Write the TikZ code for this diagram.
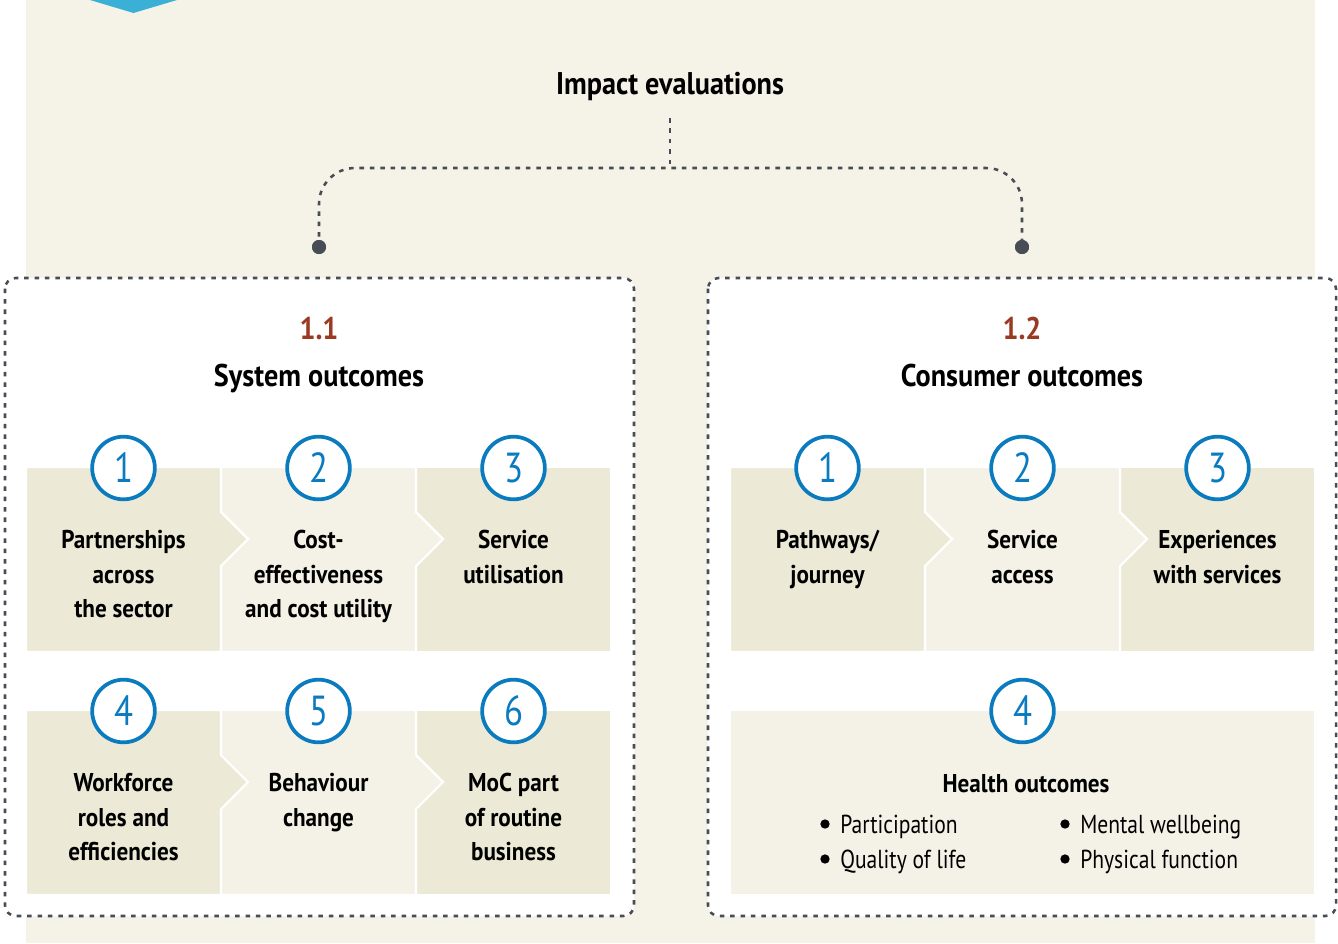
\documentclass[tikz,border=0pt]{standalone}
\usepackage{fontspec}
\setmainfont{PT Sans}[FakeStretch=0.9]
\newfontfamily\narrowfont{PT Sans}[FakeStretch=0.83]
\definecolor{bgbeige}{HTML}{F5F3E7}
\definecolor{tiledark}{HTML}{ECEAD6}
\definecolor{tilelight}{HTML}{F4F2E6}
\definecolor{numblue}{HTML}{0A7BBF}
\definecolor{topblue}{HTML}{3AB0D6}
\definecolor{brownred}{HTML}{9A3A22}
\definecolor{dashgray}{HTML}{474C55}
\newcommand\tilearrow[3]{% left x, top y, colour : tile with chevron on the right
  \filldraw[tileedge, fill=#3] (#1,#2) -- ++(195,0) -- ++(0,45) -- ++(27,27) -- ++(-27,27)
    -- (#1+195,#2+185) -- (#1,#2+185) -- cycle;}
\newcommand\tileplain[4]{% left x, top y, width, colour
  \filldraw[tileedge, fill=#4] (#1,#2) rectangle (#1+#3,#2+185);}
\begin{document}
\begin{tikzpicture}[x=0.75pt,y=-0.75pt,
  tileedge/.style={draw=white, line width=1.6pt},
  dashline/.style={draw=dashgray, line width=1.9pt, dash pattern=on 3.4pt off 4.4pt},
  boxstyle/.style={dashline, fill=white, rounded corners=8pt},
  numcirc/.style={circle, draw=numblue, line width=2.8pt, fill=white, minimum size=47pt,
    inner sep=0pt, text=numblue, font=\narrowfont\fontsize{31.5}{32}\selectfont},
  tiletext/.style={anchor=north, align=center, inner sep=0pt,
    font=\bfseries\fontsize{19.3}{25.9}\selectfont},
  titletext/.style={anchor=base, inner sep=0pt, font=\bfseries\fontsize{23.5}{28}\selectfont},
  numtitle/.style={titletext, text=brownred},
  bullettext/.style={anchor=base west, inner sep=0pt, font=\narrowfont\fontsize{19.5}{26}\selectfont},
  bulletdot/.style={circle, fill=black, inner sep=0pt, minimum size=7pt},
  dot/.style={circle, fill=dashgray, inner sep=0pt, minimum size=10.5pt}]
\useasboundingbox (0,0) rectangle (1338,943);
% background
\fill[bgbeige] (26,0) rectangle (1315,943);
\fill[topblue] (90,-2) -- (90,0) -- (133.5,13) -- (177,0) -- (177,-2) -- cycle;
% heading and connector
\node[titletext] (imp) at (670,94) {Impact evaluations};
\coordinate (jtop) at (670,118);
\coordinate (j) at (670,168);
\node[dot] (d1) at (319,247) {};
\node[dot] (d2) at (1022,247) {};
\draw[dashline] (jtop) -- (j);
\draw[dashline, rounded corners=27pt] (d1.center) |- (j) -| (d2.center);
\node[dot] at (d1) {};
\node[dot] at (d2) {};
% boxes
\draw[boxstyle] (5,278) rectangle (634,916);
\draw[boxstyle] (708,278) rectangle (1336,916);
% box titles
\node[numtitle] (n11) at (319,339) {1.1};
\node[titletext] (s11) at (319,386) {System outcomes};
\node[numtitle] (n12) at (1022,339) {1.2};
\node[titletext] (s12) at (1022,386) {Consumer outcomes};
% left box tiles, row 1
\tileplain{416}{467}{195}{tiledark}
\tilearrow{221}{467}{tilelight}
\tilearrow{26}{467}{tiledark}
% left box tiles, row 2
\tileplain{416}{710}{195}{tiledark}
\tilearrow{221}{710}{tilelight}
\tilearrow{26}{710}{tiledark}
% right box tiles, row 1
\tileplain{1120}{467}{195}{tiledark}
\tilearrow{925}{467}{tilelight}
\tilearrow{730}{467}{tiledark}
% right box, row 2
\tileplain{730}{710}{585}{tilelight}
% numbers
\node[numcirc] (a1) at (123.5,468) {1};
\node[numcirc] (a2) at (318.5,468) {2};
\node[numcirc] (a3) at (513.5,468) {3};
\node[numcirc] (a4) at (123.5,711) {4};
\node[numcirc] (a5) at (318.5,711) {5};
\node[numcirc] (a6) at (513.5,711) {6};
\node[numcirc] (b1) at (827.5,468) {1};
\node[numcirc] (b2) at (1022.5,468) {2};
\node[numcirc] (b3) at (1217.5,468) {3};
\node[numcirc] (b4) at (1022.5,711) {4};
% tile texts
\node[tiletext] (ta1) at (123.5,530) {Partnerships\\across\\the sector};
\node[tiletext] (ta2) at (318.5,530) {Cost-\\effectiveness\\and cost utility};
\node[tiletext] (ta3) at (513.5,530) {Service\\utilisation};
\node[tiletext] (ta4) at (123.5,773) {Workforce\\roles and\\efficiencies};
\node[tiletext] (ta5) at (318.5,773) {Behaviour\\change};
\node[tiletext] (ta6) at (513.5,773) {MoC part\\of routine\\business};
\node[tiletext] (tb1) at (827.5,530) {Pathways/\\journey};
\node[tiletext] (tb2) at (1022.5,530) {Service\\access};
\node[tiletext] (tb3) at (1217.5,530) {Experiences\\with services};
\node[titletext, font=\bfseries\fontsize{19.3}{25.9}\selectfont] (tb4) at (1026,792) {Health outcomes};
\node[bulletdot] (p1) at (825,824) {};
\node[bulletdot] (p2) at (825,859) {};
\node[bulletdot] (p3) at (1065,824) {};
\node[bulletdot] (p4) at (1065,859) {};
\node[bullettext] (u1) at (840,833) {Participation};
\node[bullettext] (u2) at (840,868) {Quality of life};
\node[bullettext] (u3) at (1080,833) {Mental wellbeing};
\node[bullettext] (u4) at (1080,868) {Physical function};
\end{tikzpicture}
\end{document}
